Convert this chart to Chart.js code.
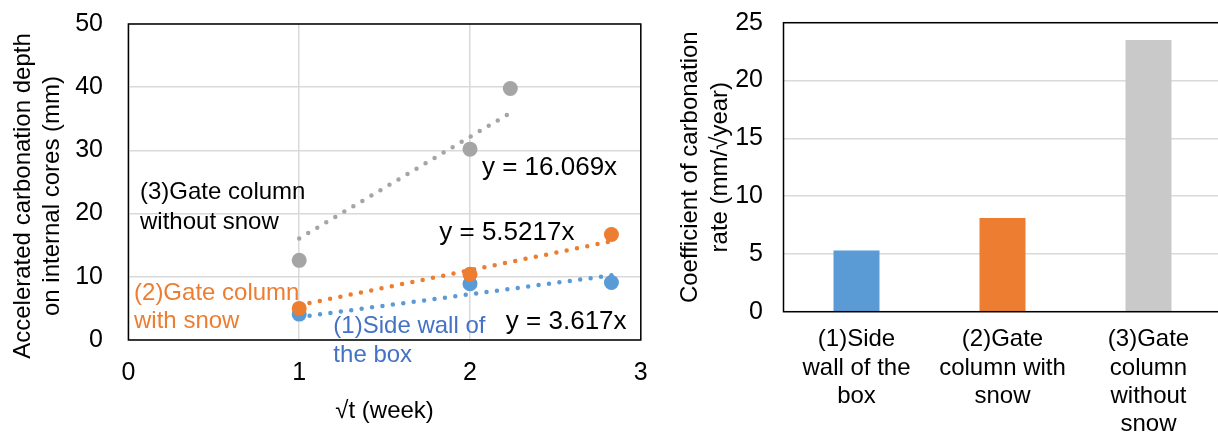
<!DOCTYPE html>
<html lang="en">
<head>
<meta charset="UTF-8">
<title>Carbonation depth and rate</title>
<script src="https://cdn.jsdelivr.net/npm/chart.js"></script>
<style>
  body { margin: 0; overflow: hidden; background: #fff; width: 1218px; height: 432px; position: relative; }
  #left { position: absolute; left: 0; top: 0; }
  #right { position: absolute; left: 660px; top: 0; }
</style>
</head>
<body>
<canvas id="left" width="660" height="432"></canvas>
<canvas id="right" width="730" height="432"></canvas>
<script>
// left chart: carbonation depth (mm) against sqrt(t) (week)
const sqrtTNoSnow = [1, 2, 2.236]
const sqrtT = [1, 2, 2.828]
const depthSide = [4.1, 8.9, 9.1]
const depthWithSnow = [5.0, 10.4, 16.7]
const depthNoSnow = [12.6, 30.2, 39.8]

// fitted lines through the origin, start and end
const trendXNoSnow = [1, 2.236]
const trendX = [1, 2.828]
const trendSide = [3.62, 10.23]
const trendWithSnow = [5.52, 15.62]
const trendNoSnow = [16.07, 35.93]

// right chart: coefficient of carbonation rate
const categories = [["(1)Side", "wall of the", "box"], ["(2)Gate", "column with", "snow"], ["(3)Gate", "column", "without", "snow"]]
const coef = [5.3, 8.1, 23.5]

const FONT = "Arial, 'Liberation Sans', sans-serif"
Chart.defaults.font.family = FONT
Chart.defaults.color = '#000'

const blue = '#5B9BD5', orange = '#ED7D31', gray = '#A5A5A5'
const gridColor = '#D9D9D9'

const pts = (xs, ys) => xs.map((x, i) => ({x: x, y: ys[i]}))

// fixed axis size, and no extra room asked for the edge labels
const fixSize = (w, h) => s => {
  if (w) s.width = w
  if (h) s.height = h
  s.paddingTop = s.paddingBottom = s.paddingLeft = s.paddingRight = 0
}

// black box round the plot area
const frame = {
  id: 'frame',
  afterDraw(chart) {
    const {ctx, chartArea: a} = chart
    ctx.save()
    ctx.strokeStyle = '#000'
    ctx.lineWidth = 1.5
    ctx.strokeRect(a.left, a.top, a.right - a.left, a.bottom - a.top)
    ctx.restore()
  }
}

// text placed in data units on the left chart
const notes = [
  {text: '(3)Gate column', x: 0.068, y: 23.3, color: '#000', size: 24},
  {text: 'without snow', x: 0.068, y: 18.6, color: '#000', size: 24},
  {text: 'y = 16.069x', x: 2.07, y: 27.2, color: '#000', size: 26},
  {text: 'y = 5.5217x', x: 1.82, y: 17.0, color: '#000', size: 26},
  {text: '(2)Gate column', x: 0.033, y: 7.4, color: orange, size: 24},
  {text: 'with snow', x: 0.033, y: 2.9, color: orange, size: 24},
  {text: '(1)Side wall of', x: 1.2, y: 2.1, color: '#4472C4', size: 24},
  {text: 'the box', x: 1.2, y: -2.5, color: '#4472C4', size: 24},
  {text: 'y = 3.617x', x: 2.21, y: 2.9, color: '#000', size: 26}
]
const notesPlugin = {
  id: 'notes',
  afterDraw(chart) {
    const {ctx, scales: {x, y}} = chart
    ctx.save()
    ctx.textAlign = 'left'
    ctx.textBaseline = 'middle'
    notes.forEach(n => {
      ctx.font = n.size + 'px ' + FONT
      ctx.fillStyle = n.color
      ctx.fillText(n.text, x.getPixelForValue(n.x), y.getPixelForValue(n.y))
    })
    ctx.restore()
  }
}

// left y title (two rotated lines)
const leftTitle = {
  id: 'leftTitle',
  afterDraw(chart) {
    const ctx = chart.ctx
    ctx.save()
    ctx.font = '24px ' + FONT
    ctx.fillStyle = '#000'
    ctx.textAlign = 'center'
    ctx.textBaseline = 'middle'
    ctx.translate(23, 196)
    ctx.rotate(-Math.PI / 2)
    ctx.fillText('Accelerated carbonation depth', 0, 0)
    ctx.fillText('on internal cores (mm)', 0, 29.5)
    ctx.restore()
  }
}

const trendStyle = {
  showLine: true,
  pointRadius: 0,
  borderWidth: 4.5,
  borderDash: [0, 10.5],
  borderCapStyle: 'round',
  order: 10
}

new Chart(document.getElementById('left'), {
  type: 'scatter',
  data: {
    datasets: [
      {data: pts(sqrtT, depthWithSnow), backgroundColor: orange, order: 1},
      {data: pts(sqrtT, depthSide), backgroundColor: blue, order: 2},
      {data: pts(sqrtTNoSnow, depthNoSnow), backgroundColor: gray, order: 3},
      Object.assign({data: pts(trendX, trendWithSnow), borderColor: orange}, trendStyle),
      Object.assign({data: pts(trendX, trendSide), borderColor: blue}, trendStyle),
      Object.assign({data: pts(trendXNoSnow, trendNoSnow), borderColor: gray}, trendStyle)
    ]
  },
  options: {
    responsive: false,
    animation: false,
    layout: {autoPadding: false, padding: {top: 24, right: 19.2, left: 0, bottom: 0}},
    elements: {point: {radius: 7.5, borderWidth: 0}},
    plugins: {legend: {display: false}, tooltip: {enabled: false}},
    scales: {
      x: {
        type: 'linear', min: 0, max: 3,
        ticks: {stepSize: 1, padding: 18, font: {size: 25}},
        grid: {color: gridColor, lineWidth: 1.5, drawTicks: false},
        border: {display: false},
        title: {display: true, text: '√t (week)', font: {size: 24}, padding: {top: 0, bottom: 6.6}},
        afterFit: fixSize(0, 92)
      },
      y: {
        min: 0, max: 50,
        ticks: {stepSize: 10, padding: 25.4, font: {size: 25}},
        grid: {color: gridColor, lineWidth: 1.5, drawTicks: false},
        border: {display: false},
        afterFit: fixSize(128.4, 0)
      }
    }
  },
  plugins: [frame, notesPlugin, leftTitle]
})

new Chart(document.getElementById('right'), {
  type: 'bar',
  data: {
    labels: categories.concat(['']),
    datasets: [{
      data: coef,
      backgroundColor: [blue, orange, '#C9C9C9'],
      categoryPercentage: 1,
      barPercentage: 0.315
    }]
  },
  options: {
    responsive: false,
    animation: false,
    layout: {autoPadding: false, padding: {top: 22.7, right: 22.5, left: 0, bottom: 0}},
    plugins: {legend: {display: false}, tooltip: {enabled: false}},
    scales: {
      x: {
        ticks: {padding: 14, maxRotation: 0, autoSkip: false, font: {size: 24, lineHeight: 1.18}},
        grid: {display: false, drawTicks: false},
        border: {display: false},
        afterFit: fixSize(0, 120.3)
      },
      y: {
        min: 0, max: 25,
        ticks: {stepSize: 5, padding: 20.5, font: {size: 25}},
        grid: {color: gridColor, lineWidth: 1.5, drawTicks: false},
        border: {display: false},
        title: {
          display: true,
          text: ['Coefficient of carbonation', 'rate (mm/√year)'],
          font: {size: 24, lineHeight: '30.5px'},
          padding: {top: 14.75, bottom: 0}
        },
        afterFit: fixSize(123.5, 0)
      }
    }
  },
  plugins: [frame]
})
</script>
</body>
</html>
